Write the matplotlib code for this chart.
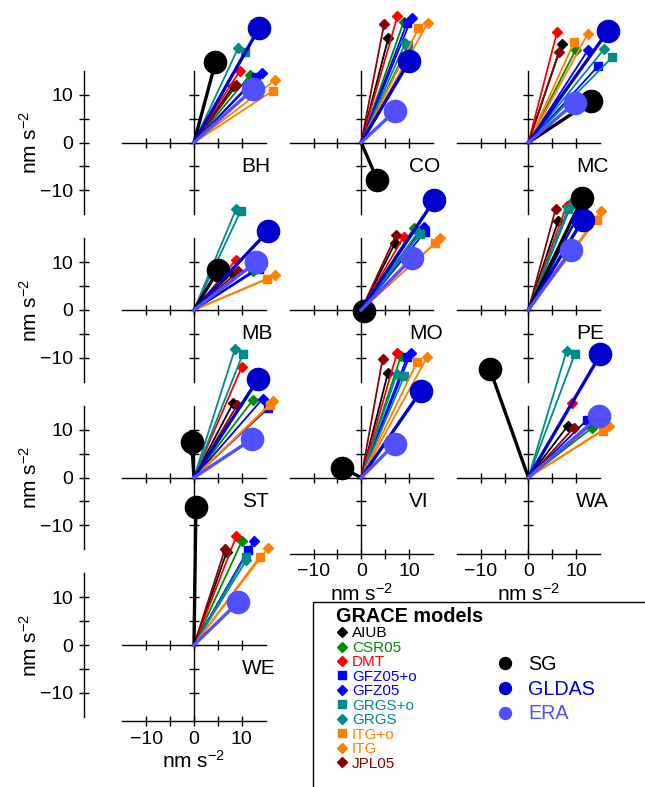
import numpy as np
import matplotlib
matplotlib.use('Agg')
import matplotlib.pyplot as plt
from matplotlib.lines import Line2D
from matplotlib.patches import Rectangle

plt.rcParams['font.family'] = ['Liberation Sans', 'DejaVu Sans']
plt.rcParams['mathtext.fontset'] = 'custom'
plt.rcParams['mathtext.rm'] = 'Liberation Sans'
plt.rcParams['mathtext.it'] = 'Liberation Sans:italic'
plt.rcParams['mathtext.bf'] = 'Liberation Sans:bold'

# stations, in panel order (3 per row)
stations = ['BH', 'CO', 'MC', 'MB', 'MO', 'PE', 'ST', 'VI', 'WA', 'WE']

# GRACE solutions: real (x) and imaginary (y) parts, nm s^-2
aiub_x = [8.2, 5.7, 7.0, 7.9, 7.1, 6.2, 8.2, 5.6, 8.3, 6.9]
aiub_y = [11.8, 22.0, 20.6, 7.7, 14.0, 18.6, 15.6, 21.9, 10.9, 19.6]
csr05_x = [11.7, 8.9, 9.9, 12.4, 11.0, 9.2, 12.3, 8.3, 13.3, 10.0]
csr05_y = [14.1, 25.3, 19.4, 8.1, 17.1, 22.6, 16.2, 25.4, 10.4, 21.7]
dmt_x = [9.6, 7.6, 6.0, 8.8, 8.9, 8.0, 10.0, 7.5, 9.2, 8.9]
dmt_y = [15.0, 26.5, 23.1, 10.5, 15.4, 21.9, 23.1, 26.1, 15.6, 22.9]
gfz05o_x = [13.1, 9.6, 14.6, 13.7, 13.4, 11.4, 15.6, 9.6, 12.2, 11.4]
gfz05o_y = [13.8, 25.1, 16.0, 8.7, 16.4, 21.5, 14.6, 25.2, 12.0, 20.0]
gfz05_x = [14.2, 10.6, 12.5, 14.2, 13.1, 11.8, 14.4, 10.4, 14.3, 12.6]
gfz05_y = [14.6, 26.2, 19.4, 9.4, 17.5, 22.6, 16.5, 26.1, 12.0, 21.9]
grgso_x = [10.7, 9.9, 17.6, 9.8, 12.4, 8.3, 10.2, 9.0, 9.7, 10.8]
grgso_y = [19.0, 20.4, 17.9, 20.8, 16.0, 21.2, 25.8, 21.2, 25.8, 18.5]
grgs_x = [9.3, 9.2, 15.8, 8.8, 12.0, 8.7, 8.6, 7.5, 8.0, 11.0]
grgs_y = [19.9, 20.8, 19.5, 21.1, 16.4, 21.5, 27.0, 21.7, 26.5, 17.8]
itgo_x = [16.6, 12.0, 9.6, 15.2, 15.5, 14.3, 15.9, 11.7, 15.6, 13.8]
itgo_y = [10.9, 23.9, 21.1, 6.4, 14.0, 18.9, 15.2, 24.2, 9.8, 18.5]
itg_x = [17.0, 13.9, 12.4, 17.0, 16.6, 15.3, 16.6, 13.8, 17.0, 15.6]
itg_y = [13.1, 25.0, 22.7, 7.3, 15.0, 20.8, 16.0, 25.2, 10.9, 20.4]
jpl05_x = [8.9, 4.8, 6.4, 9.3, 7.3, 5.7, 9.0, 4.5, 9.5, 6.5]
jpl05_y = [12.0, 24.8, 19.0, 8.1, 15.7, 21.1, 15.1, 24.9, 10.4, 20.1]

# superconducting gravimeters and hydrology models
sg_x = [4.5, 3.4, 13.2, 5.1, 0.5, 11.3, -0.5, -4.0, -8.1, 0.4]
sg_y = [16.8, -7.9, 8.7, 8.4, -0.3, 23.4, 7.5, 2.0, 22.8, 29.0]
gldas_x = [13.6, 10.1, 16.7, 15.6, 15.3, 11.4, 13.5, 12.5, 15.1, np.nan]
gldas_y = [23.9, 17.1, 23.4, 16.6, 23.0, 18.9, 20.7, 18.1, 25.8, np.nan]
era_x = [12.4, 7.0, 9.7, 13.1, 10.6, 9.0, 12.1, 7.1, 14.8, 9.3]
era_y = [11.2, 6.5, 8.3, 10.1, 10.8, 12.6, 8.0, 7.1, 12.8, 9.0]

grace_names = ['AIUB', 'CSR05', 'DMT', 'GFZ05+o', 'GFZ05',
               'GRGS+o', 'GRGS', 'ITG+o', 'ITG', 'JPL05']
grace_x = [aiub_x, csr05_x, dmt_x, gfz05o_x, gfz05_x, grgso_x, grgs_x, itgo_x, itg_x, jpl05_x]
grace_y = [aiub_y, csr05_y, dmt_y, gfz05o_y, gfz05_y, grgso_y, grgs_y, itgo_y, itg_y, jpl05_y]
grace_colors = ['black', '#008B00', '#FF0000', '#0000FF', '#0000FF',
                '#008B8B', '#008B8B', '#FF7F00', '#FF7F00', '#8B0000']
grace_markers = ['D', 'D', 'D', 's', 'D', 's', 'D', 's', 'D', 'D']

ref_names = ['SG', 'GLDAS', 'ERA']
ref_x = [sg_x, gldas_x, era_x]
ref_y = [sg_y, gldas_y, era_y]
ref_colors = ['black', '#0000CD', '#5050FF']

W, H = 645, 787
fig = plt.figure(figsize=(W / 100, H / 100), dpi=100)

s = 4.77      # pixels per nm s^-2
L = 17.5      # half width of each panel in data units
ticks = [-10, -5, 0, 5, 10]
ticklabels = ['\u221210', '', '0', '', '10']
bottom_panels = ['VI', 'WA', 'WE']
unit = r'nm s$^{-2}$'

for i, st in enumerate(stations):
    r, c = divmod(i, 3)
    ox = 194 + 167.2 * c
    oy = 142.5 + 167.5 * r
    ax = fig.add_axes([(ox - L * s) / W, (H - oy - L * s) / H, 2 * L * s / W, 2 * L * s / H])
    ax.set_xlim(-L, L)
    ax.set_ylim(-L, L)
    ax.patch.set_visible(False)

    for k in range(len(grace_names)):
        ax.plot([0, grace_x[k][i]], [0, grace_y[k][i]], color=grace_colors[k], lw=1.3,
                clip_on=False, zorder=3)
        ax.plot(grace_x[k][i], grace_y[k][i], marker=grace_markers[k], color=grace_colors[k],
                ms=6.0 if grace_markers[k] == 's' else 5.5, clip_on=False, zorder=3)
    for k in range(len(ref_names)):
        ax.plot([0, ref_x[k][i]], [0, ref_y[k][i]], color=ref_colors[k], lw=2.4,
                clip_on=False, zorder=4)
        ax.plot(ref_x[k][i], ref_y[k][i], 'o', color=ref_colors[k], ms=16,
                clip_on=False, zorder=4)

    ax.text(10, -5, st, fontsize=15, ha='left', va='center')

    is_left = c == 0
    is_bottom = st in bottom_panels
    ybot = -16 if is_bottom else -15
    for sp in ax.spines.values():
        sp.set_visible(False)
        sp.set_linewidth(1.0)

    if is_left:
        ax.spines['left'].set_visible(True)
        ax.spines['left'].set_position(('data', -23))
        ax.spines['left'].set_bounds(-15, 15)
        ax.spines['right'].set_visible(True)
        ax.spines['right'].set_position(('data', 0))
        ax.spines['right'].set_bounds(ybot, 15)
        ax.yaxis.set_ticks_position('both')
        ax.tick_params(axis='y', labelleft=True, labelright=False)
        ax.set_ylabel(unit, fontsize=15)
        ax.yaxis.set_label_coords(-0.42, 0.5)
    else:
        ax.spines['left'].set_visible(True)
        ax.spines['left'].set_position(('data', 0))
        ax.spines['left'].set_bounds(ybot, 15)
        ax.tick_params(axis='y', labelleft=False)

    if is_bottom:
        ax.spines['bottom'].set_visible(True)
        ax.spines['bottom'].set_position(('data', -16))
        ax.spines['bottom'].set_bounds(-15, 15)
        ax.spines['top'].set_visible(True)
        ax.spines['top'].set_position(('data', 0))
        ax.spines['top'].set_bounds(-15, 15)
        ax.xaxis.set_ticks_position('both')
        ax.tick_params(axis='x', labelbottom=True, labeltop=False)
        ax.set_xlabel(unit, fontsize=15)
        ax.xaxis.set_label_coords(0.5, -0.13)
    else:
        ax.spines['bottom'].set_visible(True)
        ax.spines['bottom'].set_position(('data', 0))
        ax.spines['bottom'].set_bounds(-15, 15)
        ax.tick_params(axis='x', labelbottom=False)

    ax.set_xticks(ticks)
    ax.set_yticks(ticks)
    ax.set_xticklabels(ticklabels)
    ax.set_yticklabels(ticklabels)
    ax.tick_params(direction='inout', length=6.5, width=1.0, labelsize=14)
    ax.tick_params(axis='x', pad=3.5)
    ax.tick_params(axis='y', pad=4.5)

# legend box
fig.add_artist(Rectangle((313 / W, -0.01), 0.6, (H - 602) / H + 0.01, transform=fig.transFigure,
                         fill=False, edgecolor='black', lw=1.0))

g_handles = [Line2D([], [], ls='none', marker=m, color=col, ms=6.0 if m == 's' else 5.5)
             for m, col in zip(grace_markers, grace_colors)]
leg1 = fig.legend(g_handles, grace_names, loc='upper left',
                  bbox_to_anchor=(336.5 / W, 1 - 607 / H), frameon=False,
                  title='GRACE models', title_fontproperties={'weight': 'bold', 'size': 14.3},
                  alignment='left', fontsize=11, handlelength=0.7, handletextpad=0.3,
                  labelspacing=0.03, borderpad=0, borderaxespad=0)
for t, col in zip(leg1.get_texts(), grace_colors):
    t.set_color(col)

r_handles = [Line2D([], [], ls='none', marker='o', color=col, ms=8.6) for col in ref_colors]
leg2 = fig.legend(r_handles, ref_names, loc='upper left',
                  bbox_to_anchor=(495 / W, 1 - 655 / H), frameon=False,
                  fontsize=14.2, handlelength=1.0, handletextpad=0.68,
                  labelspacing=0.29, borderpad=0, borderaxespad=0)
for t, col in zip(leg2.get_texts(), ref_colors):
    t.set_color(col)

fig.savefig('out.png', dpi=100)
